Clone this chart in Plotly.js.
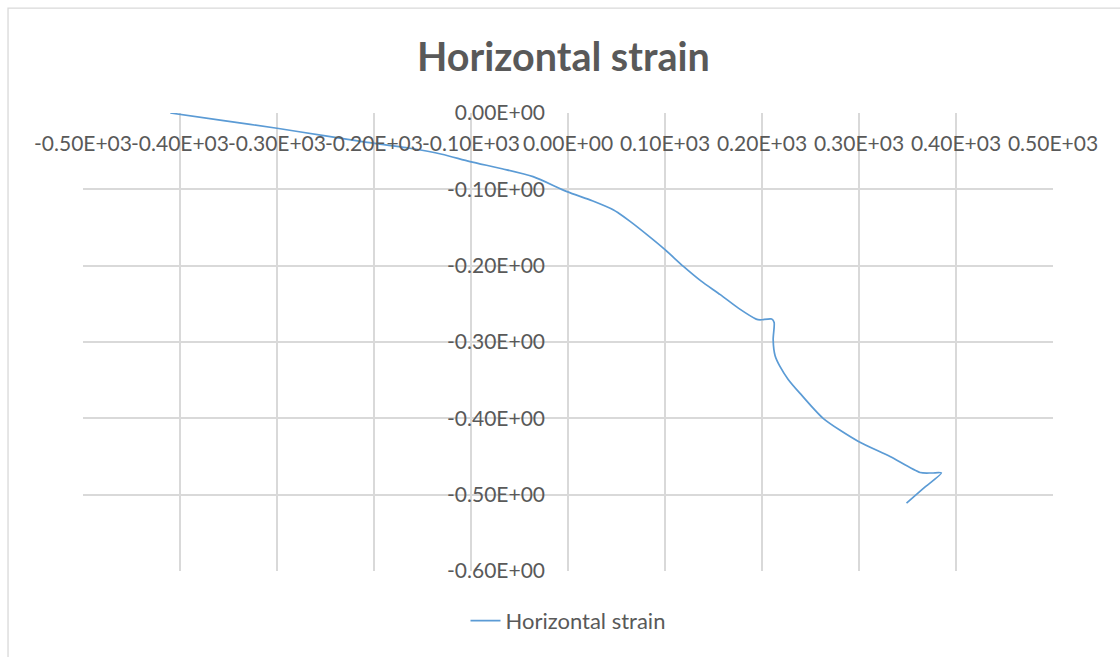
<!DOCTYPE html>
<html>
<head>
<meta charset="utf-8">
<script src="https://cdn.plot.ly/plotly-3.0.1.min.js"></script>
<style>html,body{margin:0;padding:0;background:#fff;}#chart{width:1120px;height:657px;}</style>
</head>
<body>
<div id="chart"></div>
<script>
// Data
const seriesName = "Horizontal strain";
const xValues = [-410, -355, -300, -250, -207, -163, -130, -101, -68, -36, -1, 25, 47, 52, 64, 82, 100, 119, 137, 157, 176, 194, 198, 210, 212.5, 211.5, 213.5, 218.5, 227, 239, 263, 299, 332, 363, 375, 385, 367, 349];
const yValues = [0, -0.010, -0.020, -0.030, -0.0384, -0.0462, -0.054, -0.0637, -0.073, -0.0834, -0.103, -0.115, -0.127, -0.131, -0.142, -0.160, -0.179, -0.201, -0.220, -0.238, -0.256, -0.270, -0.271, -0.270, -0.2745, -0.297, -0.318, -0.332, -0.349, -0.367, -0.400, -0.430, -0.450, -0.471, -0.4716, -0.4716, -0.491, -0.511];
const xTickVals = [-500, -400, -300, -200, -100, 0, 100, 200, 300, 400, 500];
const xTickText = ["-0.50E+03", "-0.40E+03", "-0.30E+03", "-0.20E+03", "-0.10E+03", "0.00E+00", "0.10E+03", "0.20E+03", "0.30E+03", "0.40E+03", "0.50E+03"];
const yTickVals = [0, -0.1, -0.2, -0.3, -0.4, -0.5, -0.6];
const yTickText = ["0.00E+00", "-0.10E+00", "-0.20E+00", "-0.30E+00", "-0.40E+00", "-0.50E+00", "-0.60E+00"];

const textColor = "#595959";
const gridColor = "#d9d9d9";
const fontFam = "Lato, 'Open Sans', sans-serif";

const trace = {
  x: xValues, y: yValues, type: "scatter", mode: "lines", name: seriesName,
  line: {color: "#5B9BD5", width: 1.7, shape: "spline", smoothing: 0.7}
};

const layout = {
  width: 1120, height: 657,
  margin: {l: 83, r: 67, t: 113, b: 86},
  paper_bgcolor: "#ffffff", plot_bgcolor: "#ffffff",
  font: {family: fontFam, color: textColor, size: 21},
  title: {text: "<b>Horizontal strain</b>", x: 0.503, xanchor: "center", y: 0.913, yanchor: "middle",
          font: {family: fontFam, size: 39.5, color: textColor}},
  xaxis: {
    range: [-500, 500], tickvals: xTickVals, ticktext: xTickText,
    anchor: "free", position: 1, side: "bottom", tickangle: 0,
    showgrid: true, gridcolor: gridColor, gridwidth: 1.6,
    zeroline: false, showline: false, ticks: "",
    ticklabelstandoff: 16,
    tickfont: {family: fontFam, size: 21, color: textColor}
  },
  yaxis: {
    range: [-0.6, 0], tickvals: yTickVals, ticktext: yTickText,
    anchor: "free", position: 0.5, side: "left",
    showgrid: true, gridcolor: gridColor, gridwidth: 1.6,
    zeroline: false, showline: false, ticks: "",
    ticklabelstandoff: 23,
    tickfont: {family: fontFam, size: 21, color: textColor}
  },
  showlegend: true,
  legend: {orientation: "h", x: 0.5, xanchor: "center", y: -0.109, yanchor: "middle",
           font: {family: fontFam, size: 22, color: textColor}, bgcolor: "rgba(0,0,0,0)"},
  shapes: [{type: "rect", xref: "paper", yref: "paper",
            x0: -0.0773, x1: 1.09, y0: -0.22, y1: 1.229,
            line: {color: gridColor, width: 1.3}, fillcolor: "rgba(0,0,0,0)", layer: "below"}]
};

Plotly.newPlot("chart", [trace], layout, {displayModeBar: false, responsive: false});
</script>
</body>
</html>
